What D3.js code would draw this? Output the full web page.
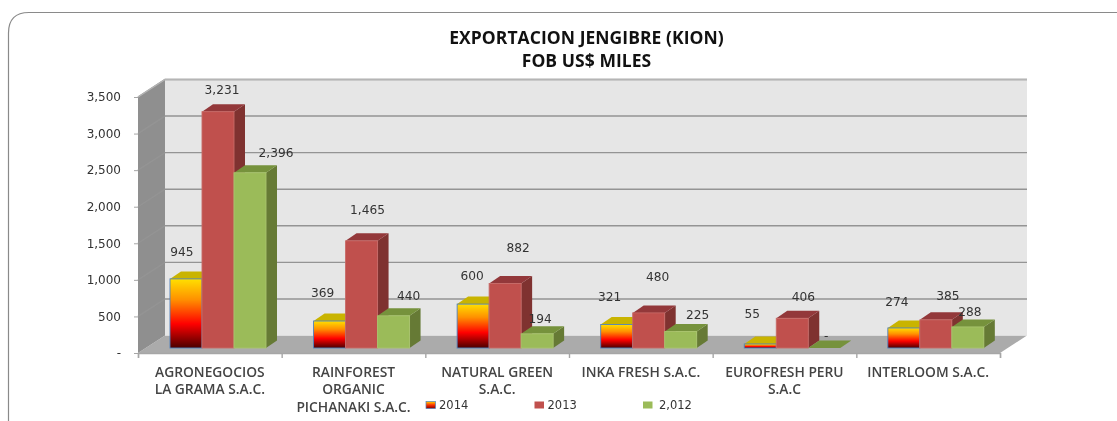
<!DOCTYPE html>
<html><head><meta charset="utf-8">
<script src="https://cdn.jsdelivr.net/npm/d3@7"></script>
<style>html,body{margin:0;background:#fff}svg{display:block;filter:blur(0.35px)}</style></head>
<body><svg id="c" width="1117" height="421"></svg>
<script>
const titleLines = ["EXPORTACION JENGIBRE (KION)", "FOB US$ MILES"];
const categories = [["AGRONEGOCIOS","LA GRAMA S.A.C."],["RAINFOREST","ORGANIC","PICHANAKI S.A.C."],["NATURAL GREEN","S.A.C."],["INKA FRESH S.A.C."],["EUROFRESH PERU","S.A.C"],["INTERLOOM S.A.C."]];
const seriesNames = ["2014","2013","2,012"];
const values2014 = [945,369,600,321,55,274];
const values2013 = [3231,1465,882,480,406,385];
const values2012 = [2396,440,194,225,0,288];
const yTicks = [0,500,1000,1500,2000,2500,3000,3500];
// label offsets from the top-centre of each bar
const labelDx = [[-4,4,26],[-7,6,15],[-1,13,3],[-7,9,17],[-8,11,2],[-7,12,2]];
const labelDy = [[-26,-21,-19],[-28,-30,-19],[-28,-34.5,-14],[-27.5,-35,-16.5],[-29,-21,-12],[-25,-23,-14]];

const svg = d3.select("#c");
const defs = svg.append("defs");
const g = defs.append("linearGradient").attr("id","fire").attr("x1",0).attr("y1",0).attr("x2",0).attr("y2",1);
[[0,"#ffe000"],[.3,"#ff9000"],[.65,"#ff0000"],[1,"#4a0000"]].forEach(s=>g.append("stop").attr("offset",s[0]).attr("stop-color",s[1]));
const lg = defs.append("linearGradient").attr("id","fireL").attr("x1",0).attr("y1",0).attr("x2",0).attr("y2",1);
[[0,"#ffd800"],[.5,"#ff3000"],[1,"#800000"]].forEach(s=>lg.append("stop").attr("offset",s[0]).attr("stop-color",s[1]));

// frame
svg.append("path").attr("d","M8.5,421 V33 Q8.5,12.5 29,12.5 H1117").attr("fill","none").attr("stroke","#8a8a8a").attr("stroke-width",1.2);

// 3D chart geometry
const x0=138,x1=1000,dx=27,dy=17.5;
const y = d3.scaleLinear().domain([0,3500]).range([353,97]);
const xCat = d3.scaleBand().domain(d3.range(6)).range([x0,x1]);
const xSer = d3.scaleBand().domain(d3.range(3)).paddingInner(0).paddingOuter(0);
const groupOffset = 32, groupW = 96;
xSer.range([0,groupW]);
const bdx=11,bdy=7.5,bshift=5;

// walls
svg.append("path").attr("d",`M${x0},${y(0)} L${x0+dx},${y(0)-dy} H${x1+dx} L${x1},${y(0)} Z`).attr("fill","#ababab");
svg.append("path").attr("d",`M${x0},${y(3500)} L${x0+dx},${y(3500)-dy} V${y(0)-dy} L${x0},${y(0)} Z`).attr("fill","#8f8f8f");
svg.append("rect").attr("x",x0+dx).attr("y",y(3500)-dy).attr("width",x1-x0).attr("height",256).attr("fill","#e6e6e6");
// gridlines
yTicks.forEach(t=>{
  svg.append("path").attr("d",`M${x0},${y(t)} L${x0+dx},${y(t)-dy} H${x1+dx}`).attr("fill","none").attr("stroke","#949494").attr("stroke-width",t===0?0:1.4);
});
svg.append("path").attr("d",`M${x0},${y(3500)} L${x0+dx},${y(3500)-dy} H${x1+dx}`).attr("fill","none").attr("stroke","#b5b5b5").attr("stroke-width",1.4);
// axis baseline with ticks
const axisG = svg.append("g").attr("transform",`translate(0,${y(0)})`);
axisG.call(d3.axisBottom(d3.scaleLinear().domain([0,6]).range([x0,x1])).ticks(6).tickSize(5).tickFormat(""));
axisG.selectAll("path,line").attr("stroke","#a6a6a6").attr("stroke-width",1.4);
// y tick marks + labels
const yAxis = svg.append("g").attr("transform",`translate(${x0},0)`).call(d3.axisLeft(y).tickValues(yTicks).tickSize(4).tickPadding(13).tickFormat(d=>d===0?"-":d3.format(",")(d)));
yAxis.select(".domain").remove();
yAxis.selectAll("line").attr("stroke","#a6a6a6");
yAxis.selectAll("text").attr("font-family","'DejaVu Sans'").attr("font-size",12).attr("fill","#333");

const colors=[
 {front:"url(#fire)",top:"#c9b400",side:"#c9b400",stroke:"#4f81bd"},
 {front:"#c0504d",top:"#93383a",side:"#7f3230",stroke:"#c76a67"},
 {front:"#9bbb59",top:"#76923c",side:"#667a35",stroke:"#a9c46d"}];
const seriesValues=[values2014,values2013,values2012];
const h = v => y(0)-y(v);
const base = y(0)-bshift;
const groupX = i => xCat(i)+groupOffset-(i*0.1);

categories.forEach((c,i)=>{
  const gx = groupX(i);
  seriesValues.forEach((vals,s)=>{
    const v=vals[i], w=xSer.bandwidth(), bx=gx+xSer(s), top=base-h(v);
    const cg=svg.append("g").attr("class","bar");
    cg.append("path").attr("d",`M${bx+w},${top} l${bdx},${-bdy} V${base-bdy} L${bx+w},${base} Z`).attr("fill",colors[s].side);
    cg.append("path").attr("d",`M${bx},${top} l${bdx},${-bdy} h${w} l${-bdx},${bdy} Z`).attr("fill",colors[s].top);
    if(v>0) cg.append("rect").attr("x",bx).attr("y",top).attr("width",w).attr("height",h(v)).attr("fill",colors[s].front).attr("stroke",colors[s].stroke).attr("stroke-width",.9);
  });
});
// data labels
categories.forEach((c,i)=>{
  const gx = groupX(i);
  seriesValues.forEach((vals,s)=>{
    const v=vals[i], w=xSer.bandwidth();
    svg.append("text").attr("x",gx+xSer(s)+w/2+labelDx[i][s]).attr("y",base-h(v)+labelDy[i][s])
      .attr("text-anchor","middle").attr("dominant-baseline","middle")
      .attr("font-family","'DejaVu Sans'").attr("font-size",12.2).attr("fill","#333")
      .text(v===0?"-":d3.format(",")(v));
  });
});
// category labels
categories.forEach((c,i)=>{
  const cx=xCat(i)+xCat.bandwidth()/2;
  c.forEach((line,k)=>svg.append("text").attr("x",cx).attr("y",376.5+k*17.5).attr("text-anchor","middle")
    .attr("font-family","'Open Sans'").attr("font-size",13.8).attr("font-weight",600).attr("fill","#444").text(line));
});
// title
titleLines.forEach((t,k)=>svg.append("text").attr("x",586.5).attr("y",44+k*22.5).attr("text-anchor","middle")
  .attr("font-family","'Open Sans'").attr("font-weight",700).attr("font-size",17.5).attr("letter-spacing",0.05).attr("fill","#111").text(t));
// legend
const legendX = d3.scalePoint().domain(seriesNames).range([426,643]);
seriesNames.forEach((n,s)=>{
  svg.append("rect").attr("x",legendX(n)).attr("y",401.5).attr("width",9.5).attr("height",7).attr("fill",s===0?"url(#fireL)":colors[s].front).attr("stroke",s===0?"#4f81bd":"none").attr("stroke-width",.7);
  svg.append("text").attr("x",legendX(n)+(s===2?16:13)).attr("y",409).attr("font-family","'DejaVu Sans'").attr("font-size",11.5).attr("fill","#333").text(n);
});
</script></body></html>
